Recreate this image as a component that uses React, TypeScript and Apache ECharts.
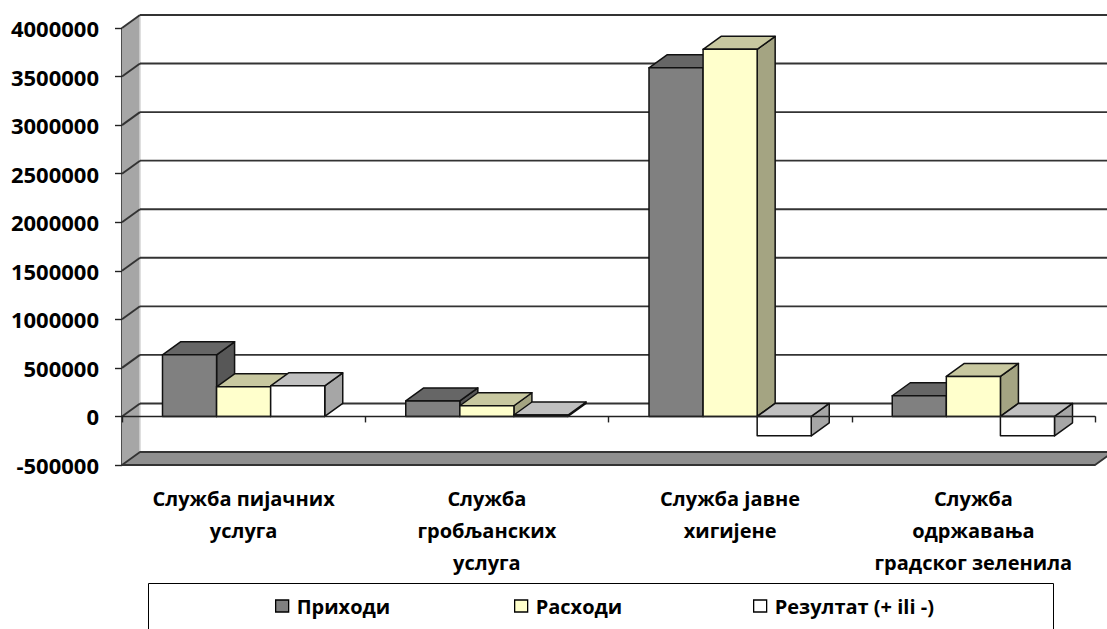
import React, { useEffect, useRef } from "react";
import * as echarts from "echarts";

const categories = [
  "Служба пијачних\nуслуга",
  "Служба\nгробљанских\nуслуга",
  "Служба јавне\nхигијене",
  "Служба\nодржавања\nградског зеленила",
];
const seriesNames = ["Приходи", "Расходи", "Резултат (+ ili -)"];
const prihodi = [635000, 160000, 3590000, 213000];
const rashodi = [305000, 110000, 3780000, 412000];
const rezultat = [315000, 15000, -200000, -200000];
const yTicks = [-500000, 0, 500000, 1000000, 1500000, 2000000, 2500000, 3000000, 3500000, 4000000];

const seriesValues = [prihodi, rashodi, rezultat];
const faceColors = [
  { front: "#808080", top: "#666666", side: "#575757" },
  { front: "#ffffcc", top: "#c8c8a0", side: "#a4a482" },
  { front: "#ffffff", top: "#c0c0c0", side: "#a6a6a6" },
];

const DX = 18;
const DY = 13;
const BAR_FRACTION = 0.667;
const FONT = "'Open Sans', 'Noto Sans', sans-serif";

function barRenderer(seriesIdx: number) {
  const c = faceColors[seriesIdx];
  return (params: any, api: any) => {
    const cat = api.value(0);
    const val = api.value(1);
    const band = api.size([1, 0])[0];
    const groupW = band * BAR_FRACTION;
    const barW = groupW / seriesValues.length;
    const pv = api.coord([cat, val]);
    const p0 = api.coord([cat, 0]);
    const x0 = pv[0] - groupW / 2 + seriesIdx * barW;
    const x1 = x0 + barW;
    const yTop = Math.min(pv[1], p0[1]);
    const yBot = Math.max(pv[1], p0[1]);
    const stroke = { stroke: "#111", lineWidth: 1.5, lineJoin: "round" };
    return {
      type: "group",
      children: [
        {
          type: "polygon",
          shape: { points: [[x1, yTop], [x1 + DX, yTop - DY], [x1 + DX, yBot - DY], [x1, yBot]] },
          style: { fill: c.side, ...stroke },
        },
        {
          type: "polygon",
          shape: { points: [[x0, yTop], [x1, yTop], [x1 + DX, yTop - DY], [x0 + DX, yTop - DY]] },
          style: { fill: c.top, ...stroke },
        },
        {
          type: "rect",
          shape: { x: x0, y: yTop, width: barW, height: yBot - yTop },
          style: { fill: c.front, ...stroke },
        },
      ],
    };
  };
}

function wallRenderer(params: any, api: any) {
  const cs = params.coordSys;
  const gx = cs.x;
  const gw = cs.width;
  const yMin = api.coord([0, yTicks[0]])[1];
  const yMax = api.coord([0, yTicks[yTicks.length - 1]])[1];
  const children: any[] = [];
  children.push({
    type: "polygon",
    shape: { points: [[gx, yMax], [gx + DX, yMax - DY], [gx + DX, yMin - DY], [gx, yMin]] },
    style: { fill: "#a6a6a6", stroke: "none" },
  });
  children.push({
    type: "line",
    shape: { x1: gx + DX, y1: yMax - DY, x2: gx + DX, y2: yMin - DY },
    style: { stroke: "#d4d4d4", lineWidth: 1.5 },
  });
  for (let i = 1; i < yTicks.length; i++) {
    const y = api.coord([0, yTicks[i]])[1];
    children.push({
      type: "line",
      shape: { x1: gx + DX, y1: y - DY, x2: gx + gw + DX + 20, y2: y - DY },
      style: { stroke: "#333333", lineWidth: 1.9 },
    });
    children.push({
      type: "line",
      shape: { x1: gx, y1: y, x2: gx + DX, y2: y - DY },
      style: { stroke: "#333333", lineWidth: 1.9 },
    });
  }
  children.push({
    type: "polygon",
    shape: { points: [[gx, yMin], [gx + gw, yMin], [gx + gw + DX, yMin - DY], [gx + DX, yMin - DY]] },
    style: { fill: "#8f8f8f", stroke: "#333", lineWidth: 1.8, lineJoin: "round" },
  });
  return { type: "group", children };
}

export default function App() {
  const ref = useRef<HTMLDivElement>(null);
  useEffect(() => {
    document.body.style.margin = "0";
    if (!ref.current) return;
    const chart = echarts.init(ref.current, null, { renderer: "svg" });
    const legendLefts = [275, 514, 753];
    chart.setOption({
      animation: false,
      backgroundColor: "#ffffff",
      grid: { left: 122, right: 12, top: 28, bottom: 164, containLabel: false },
      xAxis: {
        type: "category",
        data: categories,
        boundaryGap: true,
        axisLine: { show: true, onZero: true, lineStyle: { color: "#222", width: 1.4 } },
        axisTick: { show: true, length: 6, lineStyle: { color: "#222", width: 1.4 } },
        axisLabel: {
          interval: 0,
          margin: 17,
          fontFamily: FONT,
          fontWeight: "bold",
          fontSize: 20,
          lineHeight: 32,
          color: "#000",
          align: "center",
        },
        splitLine: { show: false },
        z: 5,
      },
      yAxis: {
        type: "value",
        min: yTicks[0],
        max: yTicks[yTicks.length - 1],
        interval: 500000,
        axisLine: { show: true, lineStyle: { color: "#222", width: 1.6 } },
        axisTick: { show: true, length: 7, lineStyle: { color: "#222", width: 1.4 } },
        axisLabel: {
          margin: 23,
          fontFamily: FONT,
          fontWeight: "bold",
          fontSize: 22,
          color: "#000",
          formatter: (v: number) => String(v),
        },
        splitLine: { show: false },
      },
      legend: seriesNames.map((n, i) => ({
        data: [n],
        left: legendLefts[i],
        top: 594,
        padding: 0,
        itemWidth: 13,
        itemHeight: 12,
        itemGap: 0,
        icon: "rect",
        itemStyle: { borderColor: "#000", borderWidth: 1.3 },
        textStyle: {
          fontFamily: FONT,
          fontWeight: "bold",
          fontSize: 20,
          lineHeight: 24,
          color: "#000",
          padding: [0, 0, 0, 3],
        },
        selectedMode: false,
      })),
      graphic: [
        {
          type: "rect",
          left: 146,
          top: 581,
          shape: { width: 905, height: 60 },
          style: { fill: "none", stroke: "#000", lineWidth: 1 },
        },
      ],
      series: [
        {
          type: "custom",
          name: "walls",
          renderItem: wallRenderer,
          data: [[0, 0]],
          z: 1,
          silent: true,
        },
        ...seriesNames.map((n, i) => ({
          type: "custom",
          name: n,
          renderItem: barRenderer(i),
          itemStyle: { color: faceColors[i].front },
          data: seriesValues[i].map((v, k) => [k, v]),
          z: 2 + i,
        })),
      ],
    });
    return () => chart.dispose();
  }, []);
  return <div ref={ref} style={{ position: "absolute", left: 0, top: 0, width: 1107, height: 629 }} />;
}
